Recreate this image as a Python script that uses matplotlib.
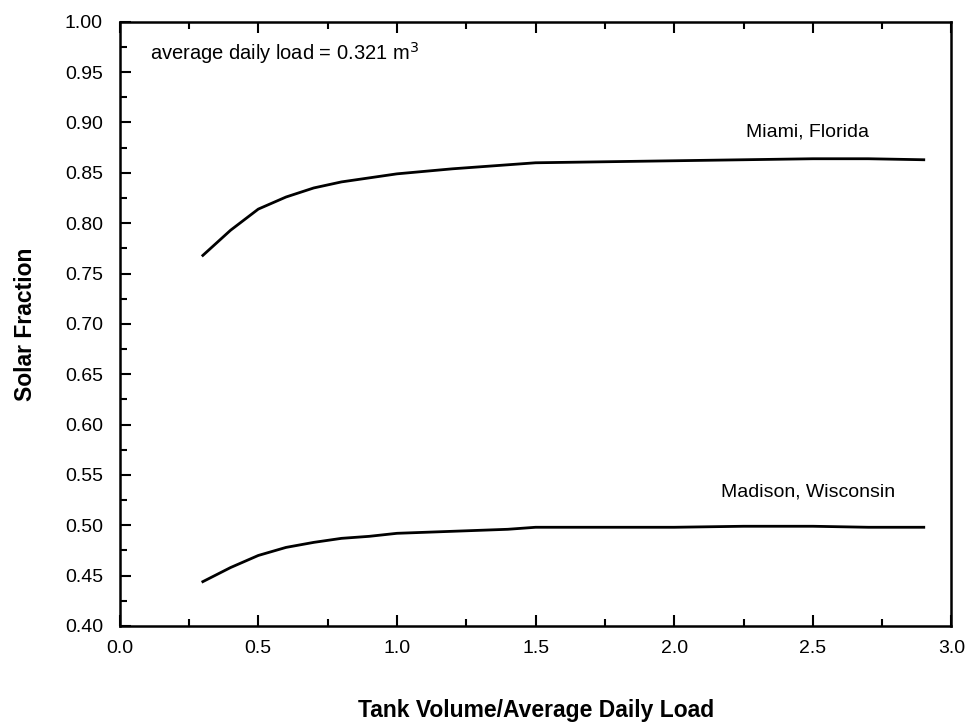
import matplotlib.pyplot as plt
from matplotlib.ticker import MultipleLocator

plt.rcParams['font.family'] = ['Liberation Sans', 'DejaVu Sans']

# tank volume / average daily load
ratio = [0.3, 0.4, 0.5, 0.6, 0.7, 0.8, 0.9, 1.0, 1.2, 1.4, 1.5, 1.75, 2.0, 2.25, 2.5, 2.7, 2.9]

# solar fraction
miami = [0.768, 0.793, 0.814, 0.826, 0.835, 0.841, 0.845, 0.849, 0.854, 0.858, 0.860, 0.861,
         0.862, 0.863, 0.864, 0.864, 0.863]
madison = [0.444, 0.458, 0.470, 0.478, 0.483, 0.487, 0.489, 0.492, 0.494, 0.496, 0.498, 0.498,
           0.498, 0.499, 0.499, 0.498, 0.498]

fig = plt.figure(figsize=(9.65, 7.27), dpi=100)
ax = fig.add_axes([0.124, 0.139, 0.862, 0.831])

ax.plot(ratio, miami, color='black', linewidth=2.0)
ax.plot(ratio, madison, color='black', linewidth=2.0)

ax.set_xlim(0.0, 3.0)
ax.set_ylim(0.40, 1.00)
ax.xaxis.set_major_locator(MultipleLocator(0.5))
ax.xaxis.set_minor_locator(MultipleLocator(0.25))
ax.yaxis.set_major_locator(MultipleLocator(0.05))
ax.yaxis.set_minor_locator(MultipleLocator(0.025))
ax.xaxis.set_major_formatter(lambda v, p: f"{v:.1f}")
ax.yaxis.set_major_formatter(lambda v, p: f"{v:.2f}")

ax.tick_params(which='both', direction='in', top=True, right=False, width=1.5, labelsize=14)
ax.tick_params(which='major', length=8)
ax.tick_params(which='minor', length=5)
ax.tick_params(axis='x', pad=10)
ax.tick_params(axis='y', pad=12)
for s in ax.spines.values():
    s.set_linewidth(1.8)

ax.text(0.11, 0.962, "average daily load = 0.321 m$^3$", fontsize=14.5)
ax.text(2.26, 0.886, "Miami, Florida", fontsize=14)
ax.text(2.17, 0.529, "Madison, Wisconsin", fontsize=14)

ax.set_xlabel("Tank Volume/Average Daily Load", fontsize=16.5, fontweight='bold', labelpad=30)
ax.set_ylabel("Solar Fraction", fontsize=16.5, fontweight='bold', labelpad=20)

fig.savefig("out.png", dpi=100)
